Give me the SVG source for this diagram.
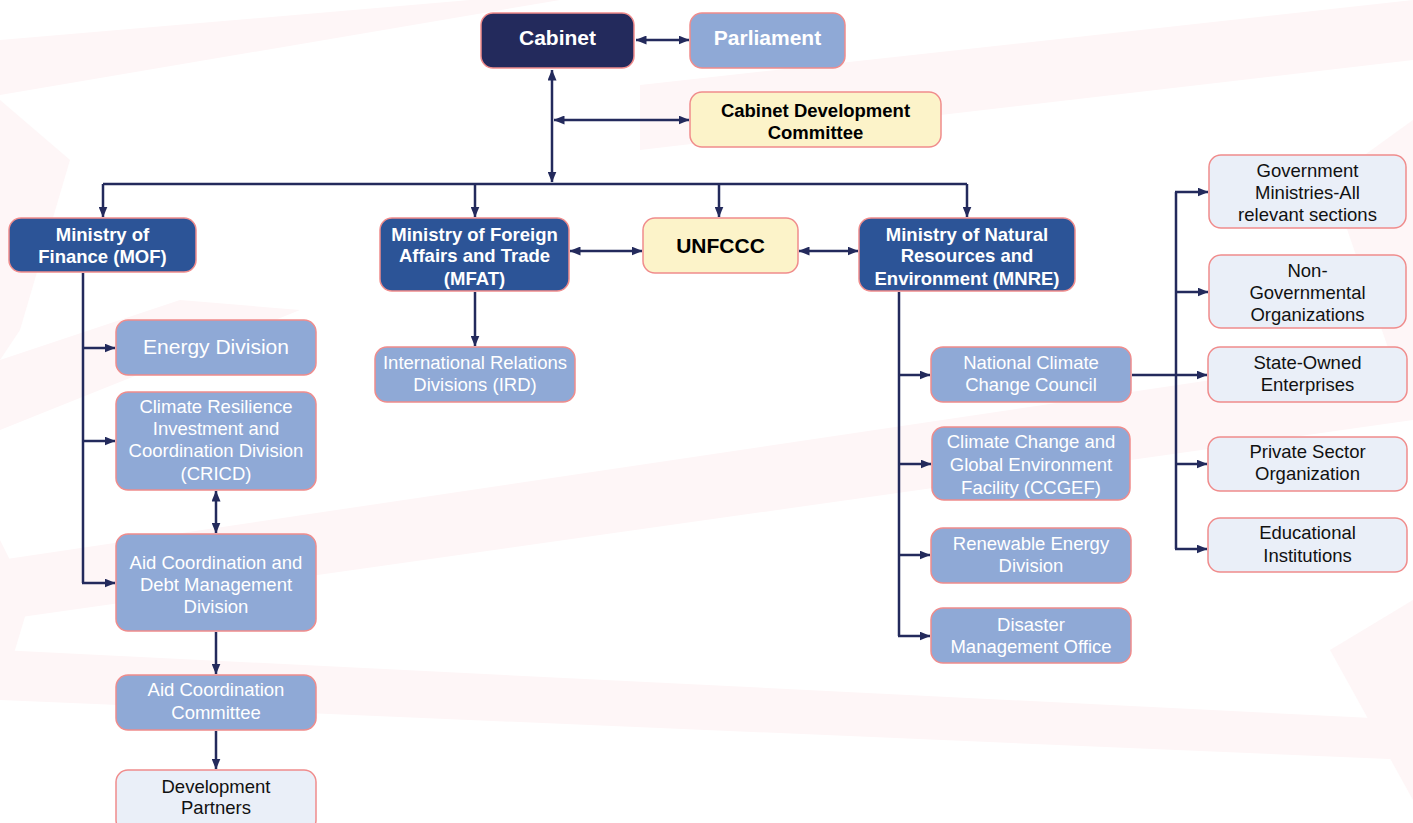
<svg xmlns="http://www.w3.org/2000/svg" width="1413" height="823" viewBox="0 0 1413 823">
<defs>
<marker id="ah" viewBox="0 0 11 9" refX="10.5" refY="4.5" markerWidth="11" markerHeight="9" markerUnits="userSpaceOnUse" orient="auto-start-reverse">
<path d="M0,0 L11,4.5 L0,9 z" fill="#232a5c"/>
</marker>
</defs>
<style>
.bg{fill:#fef6f7;}
.n rect{stroke:#f08c8c;stroke-width:1.5;}
.dark rect{fill:#232a5c;}
.blue rect{fill:#2c5497;}
.light rect{fill:#8fa9d6;}
.cream rect{fill:#fcf3c9;}
.pale rect{fill:#eaeff8;}
text{font-family:"Liberation Sans",Arial,Helvetica,sans-serif;text-anchor:middle;font-size:18.5px;}
.dark text,.blue text{fill:#ffffff;font-weight:bold;}
.light text{fill:#ffffff;}
.cream text{fill:#000000;font-weight:bold;}
.pale text{fill:#111111;}
text.big{font-size:21px;}
.c line,.c path{stroke:#232a5c;stroke-width:2.5;fill:none;}
</style>
<rect width="1413" height="823" fill="#ffffff"/>
<g id="background">
<polygon class="bg" points="0,40 470,0 560,0 0,95"/>
<polygon class="bg" points="640,85 1413,0 1413,60 640,150"/>
<polygon class="bg" points="0,100 70,160 20,330 0,360"/>
<polygon class="bg" points="0,540 30,600 0,700"/>
<polygon class="bg" points="0,560 1413,350 1413,420 0,620"/>
<polygon class="bg" points="0,650 1413,720 1413,760 0,700"/>
<polygon class="bg" points="1330,180 1413,120 1413,420"/>
<polygon class="bg" points="1330,650 1413,600 1413,800"/>
<polygon class="bg" points="0,360 180,300 300,310 0,430"/>
</g>
<g id="connectors" class="c">
<line x1="636" y1="40" x2="689" y2="40" marker-start="url(#ah)" marker-end="url(#ah)"/>
<line x1="552" y1="70" x2="552" y2="182" marker-start="url(#ah)" marker-end="url(#ah)"/>
<line x1="554" y1="120" x2="689" y2="120" marker-start="url(#ah)" marker-end="url(#ah)"/>
<path d="M103,184 H967"/>
<line x1="103" y1="184" x2="103" y2="217" marker-end="url(#ah)"/>
<line x1="475" y1="184" x2="475" y2="217" marker-end="url(#ah)"/>
<line x1="719" y1="184" x2="719" y2="217" marker-end="url(#ah)"/>
<line x1="967" y1="184" x2="967" y2="217" marker-end="url(#ah)"/>
<line x1="570" y1="251" x2="642" y2="251" marker-start="url(#ah)" marker-end="url(#ah)"/>
<line x1="799" y1="251" x2="858" y2="251" marker-start="url(#ah)" marker-end="url(#ah)"/>
<line x1="475" y1="292" x2="475" y2="346" marker-end="url(#ah)"/>
<path d="M83,273 V583"/>
<line x1="83" y1="348" x2="115" y2="348" marker-end="url(#ah)"/>
<line x1="83" y1="441" x2="115" y2="441" marker-end="url(#ah)"/>
<line x1="82" y1="583" x2="115" y2="583" marker-end="url(#ah)"/>
<line x1="216" y1="491" x2="216" y2="533" marker-start="url(#ah)" marker-end="url(#ah)"/>
<line x1="216" y1="632" x2="216" y2="674" marker-end="url(#ah)"/>
<line x1="216" y1="731" x2="216" y2="769" marker-end="url(#ah)"/>
<path d="M899,292 V636"/>
<line x1="899" y1="375" x2="930" y2="375" marker-end="url(#ah)"/>
<line x1="899" y1="464" x2="931" y2="464" marker-end="url(#ah)"/>
<line x1="899" y1="555" x2="930" y2="555" marker-end="url(#ah)"/>
<line x1="898" y1="636" x2="930" y2="636" marker-end="url(#ah)"/>
<line x1="1132" y1="375" x2="1207" y2="375" marker-end="url(#ah)"/>
<path d="M1176,192 V549"/>
<line x1="1175" y1="192" x2="1208" y2="192" marker-end="url(#ah)"/>
<line x1="1176" y1="292" x2="1208" y2="292" marker-end="url(#ah)"/>
<line x1="1176" y1="464" x2="1207" y2="464" marker-end="url(#ah)"/>
<line x1="1175" y1="549" x2="1207" y2="549" marker-end="url(#ah)"/>
</g>
<g id="cabinet" class="n dark"><rect x="481" y="13" width="153" height="55" rx="12"/><text class="big" x="557.5" y="45">Cabinet</text></g>
<g id="parliament" class="n light"><rect x="690" y="13" width="155" height="55" rx="12"/><text class="big" x="767.5" y="45" font-weight="bold" style="font-weight:bold">Parliament</text></g>
<g id="cdc" class="n cream"><rect x="690" y="92" width="251" height="55" rx="12"/><text x="815.5" y="117">Cabinet Development</text><text x="815.5" y="139">Committee</text></g>
<g id="mof" class="n blue"><rect x="9" y="218" width="187" height="54" rx="12"/><text x="102.5" y="241">Ministry of</text><text x="102.5" y="263">Finance (MOF)</text></g>
<g id="mfat" class="n blue"><rect x="380" y="218" width="189" height="73" rx="12"/><text x="474.5" y="241">Ministry of Foreign</text><text x="474.5" y="262">Affairs and Trade</text><text x="474.5" y="285">(MFAT)</text></g>
<g id="unfccc" class="n cream"><rect x="643" y="218" width="155" height="55" rx="12"/><text class="big" x="720.5" y="253">UNFCCC</text></g>
<g id="mnre" class="n blue"><rect x="859" y="218" width="216" height="73" rx="12"/><text x="967" y="241">Ministry of Natural</text><text x="967" y="262">Resources and</text><text x="967" y="285">Environment (MNRE)</text></g>
<g id="energy" class="n light"><rect x="116" y="320" width="200" height="55" rx="12"/><text class="big" x="216" y="354">Energy Division</text></g>
<g id="ird" class="n light"><rect x="375" y="347" width="200" height="55" rx="12"/><text x="475" y="369">International Relations</text><text x="475" y="391">Divisions (IRD)</text></g>
<g id="cricd" class="n light"><rect x="116" y="392" width="200" height="98" rx="12"/><text x="216" y="413">Climate Resilience</text><text x="216" y="435">Investment and</text><text x="216" y="457">Coordination Division</text><text x="216" y="480">(CRICD)</text></g>
<g id="acdmd" class="n light"><rect x="116" y="534" width="200" height="97" rx="12"/><text x="216" y="569">Aid Coordination and</text><text x="216" y="591">Debt Management</text><text x="216" y="613">Division</text></g>
<g id="acc" class="n light"><rect x="116" y="675" width="200" height="55" rx="12"/><text x="216" y="696">Aid Coordination</text><text x="216" y="719">Committee</text></g>
<g id="devpartners" class="n pale"><rect x="116" y="770" width="200" height="62" rx="12"/><text x="216" y="793">Development</text><text x="216" y="814">Partners</text></g>
<g id="nccc" class="n light"><rect x="931" y="347" width="200" height="55" rx="12"/><text x="1031" y="369">National Climate</text><text x="1031" y="391">Change Council</text></g>
<g id="ccgef" class="n light"><rect x="932" y="427" width="198" height="73" rx="12"/><text x="1031" y="448">Climate Change and</text><text x="1031" y="471">Global Environment</text><text x="1031" y="494">Facility (CCGEF)</text></g>
<g id="red" class="n light"><rect x="931" y="528" width="200" height="55" rx="12"/><text x="1031" y="550">Renewable Energy</text><text x="1031" y="572">Division</text></g>
<g id="dmo" class="n light"><rect x="931" y="608" width="200" height="55" rx="12"/><text x="1031" y="631">Disaster</text><text x="1031" y="653">Management Office</text></g>
<g id="govmin" class="n pale"><rect x="1209" y="155" width="197" height="73" rx="12"/><text x="1307.5" y="177">Government</text><text x="1307.5" y="199">Ministries-All</text><text x="1307.5" y="221">relevant sections</text></g>
<g id="ngo" class="n pale"><rect x="1209" y="255" width="197" height="73" rx="12"/><text x="1307.5" y="277">Non-</text><text x="1307.5" y="299">Governmental</text><text x="1307.5" y="321">Organizations</text></g>
<g id="soe" class="n pale"><rect x="1208" y="347" width="199" height="55" rx="12"/><text x="1307.5" y="369">State-Owned</text><text x="1307.5" y="391">Enterprises</text></g>
<g id="private" class="n pale"><rect x="1208" y="437" width="199" height="54" rx="12"/><text x="1307.5" y="458">Private Sector</text><text x="1307.5" y="480">Organization</text></g>
<g id="edu" class="n pale"><rect x="1208" y="518" width="199" height="54" rx="12"/><text x="1307.5" y="539">Educational</text><text x="1307.5" y="562">Institutions</text></g>
</svg>
